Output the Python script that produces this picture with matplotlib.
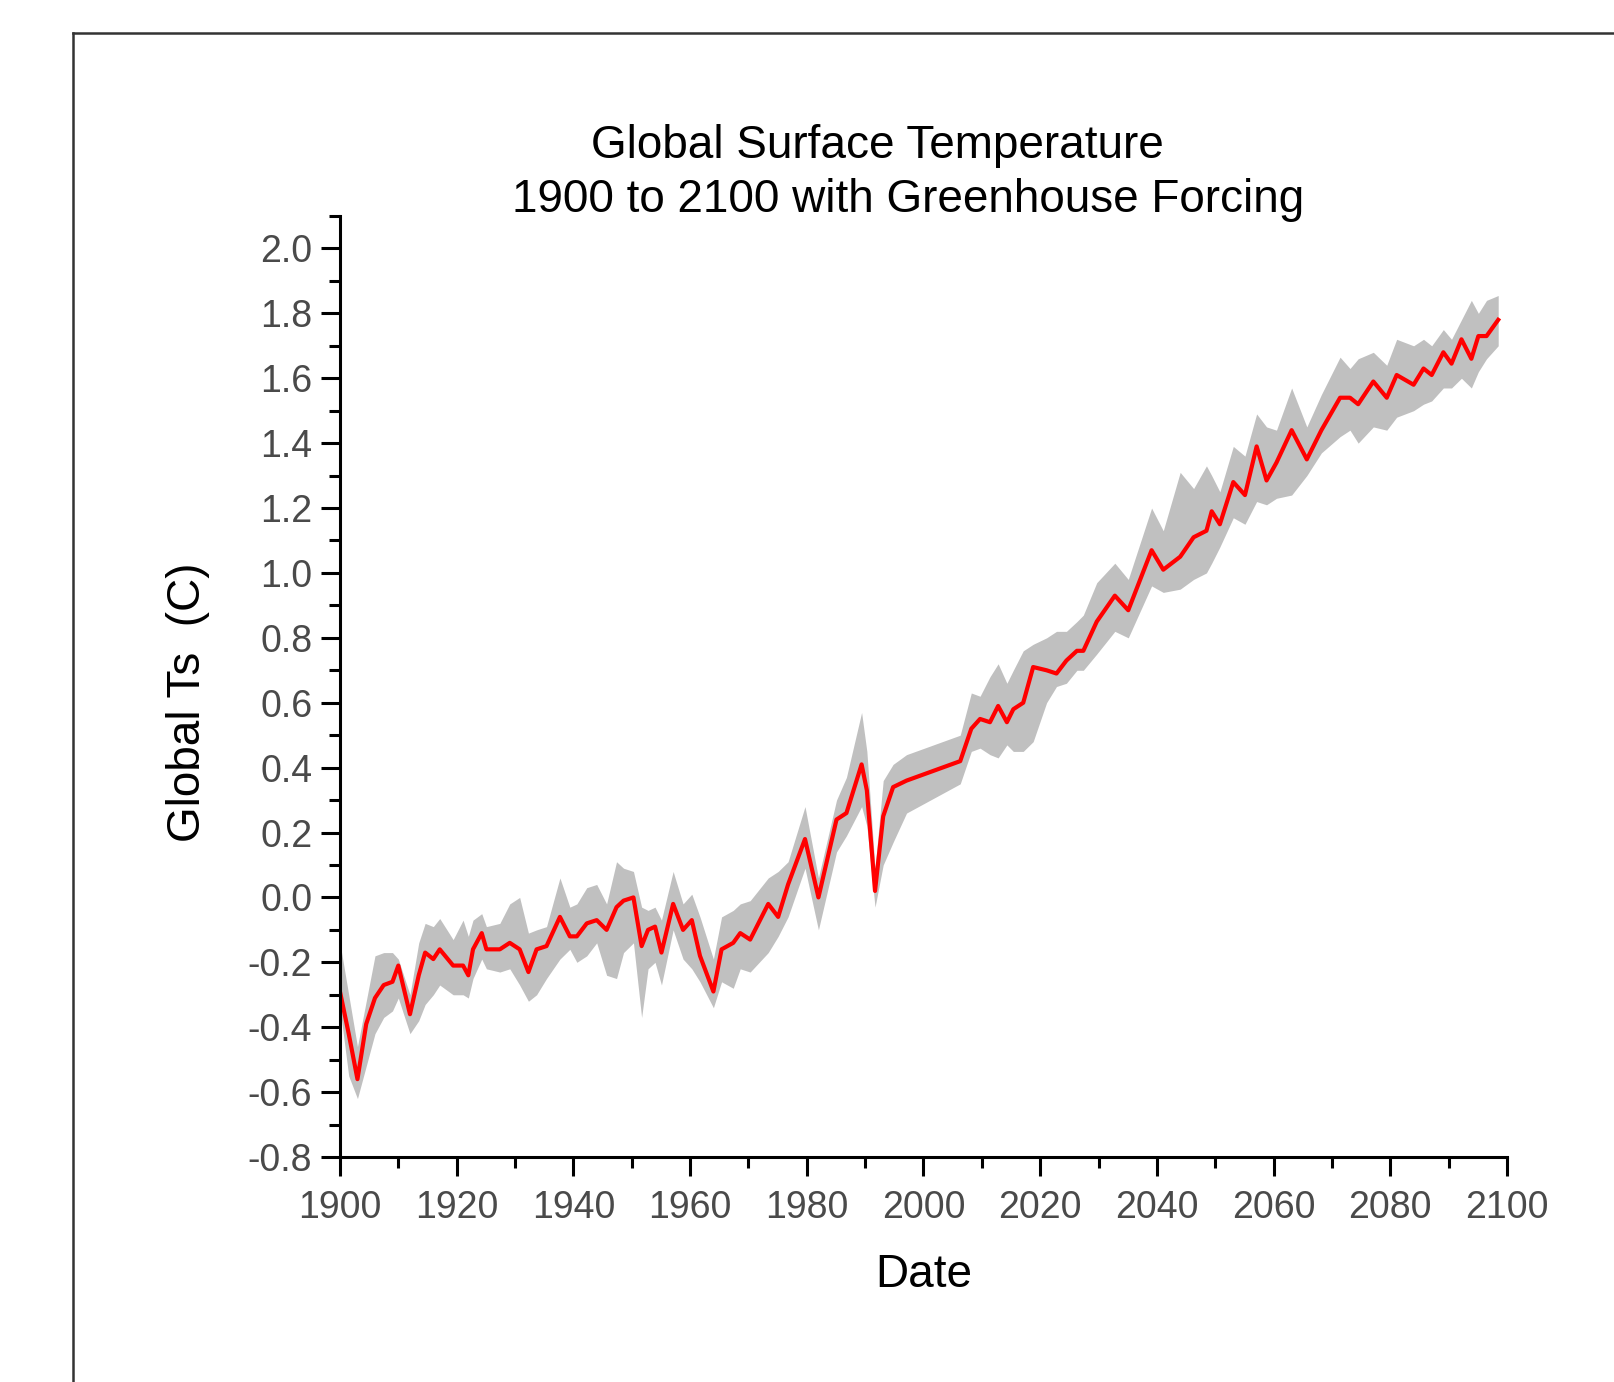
import matplotlib
matplotlib.use("Agg")
import matplotlib.pyplot as plt
from matplotlib.lines import Line2D
from matplotlib.ticker import MultipleLocator

plt.rcParams['font.family'] = ['Liberation Sans', 'DejaVu Sans']

# values
years = [1900.0, 1901.5, 1903.0, 1904.5, 1906.0, 1907.5, 1909.0, 1910.0, 1912.0, 1913.5,
         1914.6, 1916.0, 1917.1, 1919.4, 1921.1, 1922.0, 1922.8, 1924.3, 1925.1, 1927.4,
         1929.1, 1930.8, 1932.3, 1933.7, 1935.4, 1937.7, 1939.4, 1940.6, 1942.3, 1944.0,
         1945.7, 1947.4, 1948.6, 1950.3, 1951.7, 1952.8, 1954.0, 1955.1, 1957.1, 1958.8,
         1960.3, 1961.7, 1964.0, 1965.4, 1967.4, 1968.6, 1970.3, 1973.4, 1975.1, 1976.8,
         1979.7, 1982.0, 1985.1, 1986.8, 1989.4, 1990.3, 1991.7, 1993.1, 1994.8, 1997.1,
         2006.3, 2008.2, 2009.7, 2011.4, 2012.8, 2014.3, 2015.4, 2017.1, 2018.8, 2021.1,
         2022.8, 2024.5, 2026.3, 2027.4, 2029.7, 2032.8, 2035.1, 2039.1, 2041.1, 2044.0,
         2046.3, 2048.5, 2049.4, 2050.8, 2053.1, 2055.1, 2057.1, 2058.8, 2060.5, 2063.1,
         2065.7, 2068.2, 2071.4, 2073.1, 2074.5, 2077.1, 2079.4, 2081.1, 2084.0, 2085.7,
         2087.1, 2089.1, 2090.5, 2092.2, 2093.9, 2095.1, 2096.5, 2098.5]

mean_ts = [-0.29, -0.42, -0.56, -0.39, -0.31, -0.27, -0.26, -0.21, -0.36, -0.24,
           -0.17, -0.19, -0.16, -0.21, -0.21, -0.24, -0.16, -0.11, -0.16, -0.16,
           -0.14, -0.16, -0.23, -0.16, -0.15, -0.06, -0.12, -0.12, -0.08, -0.07,
           -0.10, -0.03, -0.01, 0.00, -0.15, -0.10, -0.09, -0.17, -0.02, -0.10,
           -0.07, -0.18, -0.29, -0.16, -0.14, -0.11, -0.13, -0.02, -0.06, 0.04,
           0.18, 0.00, 0.24, 0.26, 0.41, 0.33, 0.02, 0.25, 0.34, 0.36,
           0.42, 0.52, 0.55, 0.54, 0.59, 0.54, 0.58, 0.60, 0.71, 0.70,
           0.69, 0.73, 0.76, 0.76, 0.85, 0.93, 0.885, 1.07, 1.01, 1.05,
           1.11, 1.13, 1.19, 1.15, 1.28, 1.24, 1.39, 1.285, 1.34, 1.44,
           1.35, 1.44, 1.54, 1.54, 1.52, 1.59, 1.54, 1.61, 1.58, 1.63,
           1.61, 1.68, 1.645, 1.72, 1.66, 1.73, 1.73, 1.78]

band_hi = [-0.14, -0.30, -0.46, -0.32, -0.18, -0.17, -0.17, -0.19, -0.30, -0.14,
           -0.08, -0.09, -0.065, -0.13, -0.07, -0.12, -0.07, -0.05, -0.09, -0.08,
           -0.02, 0.00, -0.11, -0.10, -0.09, 0.06, -0.03, -0.02, 0.03, 0.04,
           -0.02, 0.11, 0.09, 0.08, -0.03, -0.04, -0.03, -0.07, 0.08, -0.02,
           0.01, -0.06, -0.19, -0.06, -0.04, -0.02, -0.01, 0.06, 0.08, 0.11,
           0.28, 0.06, 0.30, 0.37, 0.57, 0.45, 0.09, 0.36, 0.41, 0.44,
           0.50, 0.63, 0.62, 0.68, 0.72, 0.66, 0.70, 0.76, 0.78, 0.80,
           0.82, 0.82, 0.85, 0.87, 0.97, 1.03, 0.98, 1.20, 1.13, 1.31,
           1.26, 1.33, 1.30, 1.25, 1.39, 1.36, 1.49, 1.45, 1.44, 1.57,
           1.45, 1.55, 1.665, 1.63, 1.66, 1.68, 1.64, 1.72, 1.70, 1.72,
           1.70, 1.75, 1.72, 1.78, 1.84, 1.80, 1.84, 1.855]

band_lo = [-0.34, -0.55, -0.62, -0.52, -0.42, -0.37, -0.35, -0.31, -0.42, -0.38,
           -0.33, -0.30, -0.27, -0.30, -0.30, -0.31, -0.25, -0.19, -0.22, -0.23,
           -0.22, -0.27, -0.32, -0.30, -0.25, -0.19, -0.16, -0.20, -0.18, -0.14,
           -0.24, -0.25, -0.17, -0.14, -0.37, -0.22, -0.20, -0.27, -0.10, -0.19,
           -0.22, -0.26, -0.34, -0.26, -0.28, -0.22, -0.23, -0.17, -0.12, -0.06,
           0.09, -0.10, 0.14, 0.19, 0.28, 0.22, -0.03, 0.10, 0.17, 0.26,
           0.35, 0.45, 0.46, 0.44, 0.43, 0.47, 0.45, 0.45, 0.48, 0.60,
           0.65, 0.66, 0.70, 0.70, 0.75, 0.82, 0.80, 0.96, 0.94, 0.95,
           0.98, 1.00, 1.03, 1.08, 1.17, 1.15, 1.22, 1.21, 1.23, 1.24,
           1.30, 1.37, 1.42, 1.44, 1.40, 1.45, 1.44, 1.48, 1.50, 1.52,
           1.53, 1.57, 1.57, 1.60, 1.57, 1.62, 1.66, 1.70]

x_ticks = [1900, 1920, 1940, 1960, 1980, 2000, 2020, 2040, 2060, 2080, 2100]
y_ticks = [-0.8, -0.6, -0.4, -0.2, 0.0, 0.2, 0.4, 0.6, 0.8, 1.0, 1.2, 1.4, 1.6, 1.8, 2.0]

fig = plt.figure(figsize=(16.15, 13.82), dpi=100)
ax = fig.add_axes([0.2105, 0.1628, 0.7226, 0.6809])

ax.fill_between(years, band_lo, band_hi, color='#c0c0c0', linewidth=0)
ax.plot(years, mean_ts, color='#ff0000', linewidth=3.0)

ax.set_xlim(1900, 2100)
ax.set_ylim(-0.8, 2.1)
ax.set_xticks(x_ticks)
ax.set_yticks(y_ticks)
ax.set_yticklabels([f"{v:.1f}" for v in y_ticks])
ax.xaxis.set_minor_locator(MultipleLocator(10))
ax.yaxis.set_minor_locator(MultipleLocator(0.1))

for side in ['top', 'right']:
    ax.spines[side].set_visible(False)
for side in ['left', 'bottom']:
    ax.spines[side].set_linewidth(2.2)

ax.tick_params(which='major', direction='out', length=14, width=2.2,
               labelsize=27, labelcolor='#4a4a4a')
ax.tick_params(axis='x', which='major', pad=10)
ax.tick_params(axis='y', which='major', pad=6)
ax.tick_params(which='minor', direction='out', length=8, width=2.2)

ax.set_xlabel('Date', fontsize=33)
ax.set_ylabel('Global Ts  (C)', fontsize=33)
ax.xaxis.set_label_coords(0.5, -0.125)
ax.yaxis.set_label_coords(-0.130, 0.4835)
ax.xaxis.label.set_va('center')
ax.yaxis.label.set_va('center')

fig.text(0.5434, 0.894, 'Global Surface Temperature', fontsize=33,
         ha='center', va='center')
fig.text(0.5625, 0.855, '1900 to 2100 with Greenhouse Forcing', fontsize=33,
         ha='center', va='center')

# outer frame (cut off at right and bottom)
fig.add_artist(Line2D([0.045, 0.045], [0.0, 0.976], transform=fig.transFigure,
                      color='#333333', linewidth=1.8))
fig.add_artist(Line2D([0.045, 1.0], [0.976, 0.976], transform=fig.transFigure,
                      color='#333333', linewidth=1.8))

fig.savefig('out.png', dpi=100, facecolor='white')
